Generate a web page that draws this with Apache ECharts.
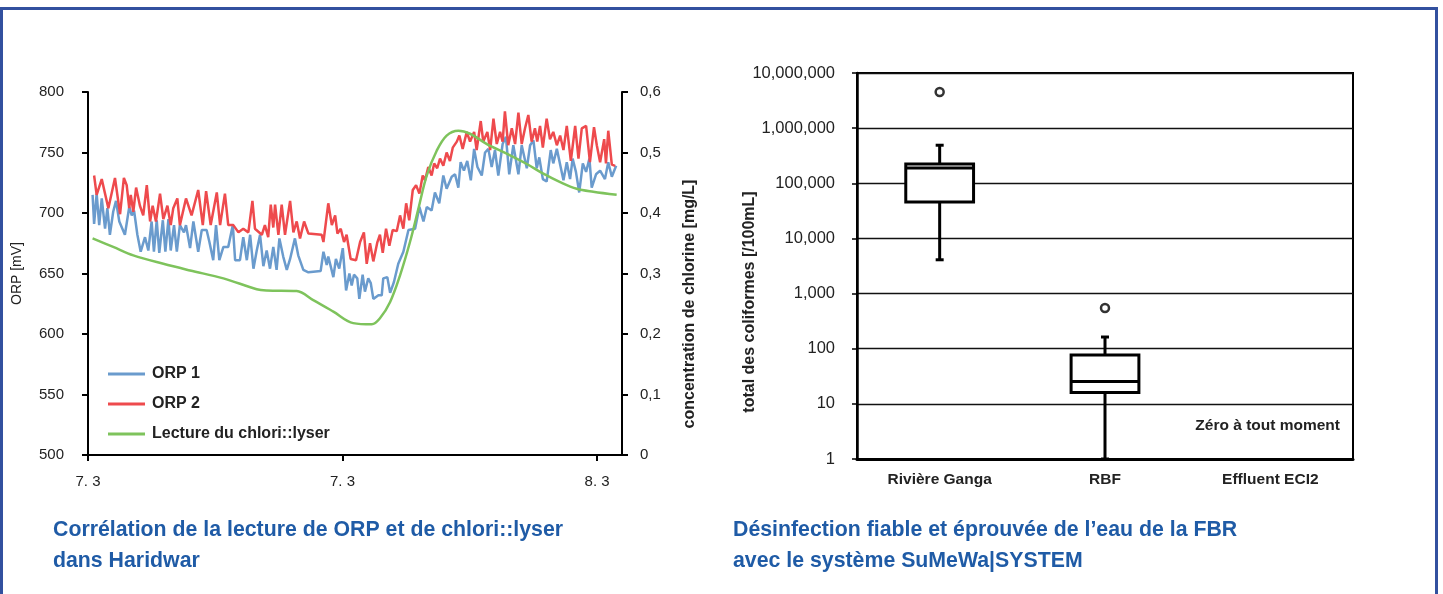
<!DOCTYPE html>
<html>
<head>
<meta charset="utf-8">
<script src="https://cdn.jsdelivr.net/npm/echarts@6/dist/echarts.min.js"></script>
<style>
    html, body { margin: 0; padding: 0; background: #fff; }
    #main { width: 1443px; height: 594px; position: relative; }
    .frame {
        position: absolute; left: 0; top: 7px; width: 1438px; height: 590px;
        border: 3px solid #32509f; box-sizing: border-box; pointer-events: none;
    }
</style>
</head>
<body>
<div id="main"></div>
<div class="frame"></div>
<script>
    // --- left chart: ORP vs chlori::lyser (x in days from first tick) ---
    var xTickLabels = ['7. 3', '7. 3', '8. 3'];

    var orp1 = [[0.018,715],[0.024,691],[0.034,716],[0.044,690],[0.054,712],[0.067,687],[0.076,704],[0.086,682],[0.099,701],[0.110,710],
        [0.123,693],[0.145,682],[0.162,705],[0.172,698],[0.181,702],[0.194,682],[0.207,668],[0.224,680],[0.237,669],[0.250,693],
        [0.259,668],[0.270,694],[0.280,667],[0.294,694],[0.304,668],[0.316,695],[0.325,669],[0.338,690],[0.349,668],[0.361,690],
        [0.377,684],[0.385,690],[0.401,671],[0.414,693],[0.433,668],[0.447,686],[0.466,686],[0.477,676],[0.492,661],[0.503,690],
        [0.516,661],[0.532,672],[0.551,672],[0.569,690],[0.578,661],[0.597,661],[0.610,680],[0.624,661],[0.637,682],[0.650,654],
        [0.663,669],[0.676,682],[0.689,656],[0.702,669],[0.715,654],[0.728,672],[0.741,653],[0.752,679],[0.767,664],[0.781,653],
        [0.794,662],[0.813,679],[0.826,665],[0.846,653],[0.866,651],[0.914,652],[0.925,668],[0.938,657],[0.944,664],[0.964,647],
        [0.974,662],[0.987,654],[1.001,671],[1.014,636],[1.027,650],[1.036,640],[1.045,649],[1.058,646],[1.066,629],[1.079,649],
        [1.088,635],[1.101,646],[1.111,642],[1.121,629],[1.141,632],[1.154,632],[1.160,646],[1.176,647],[1.187,634],[1.202,643],
        [1.219,658],[1.239,668],[1.259,686],[1.285,687],[1.302,705],[1.318,693],[1.331,705],[1.350,702],[1.363,717],[1.380,708],
        [1.396,731],[1.409,720],[1.429,730],[1.442,732],[1.455,721],[1.464,742],[1.477,735],[1.490,743],[1.504,727],[1.517,753],
        [1.530,738],[1.547,731],[1.560,750],[1.573,753],[1.586,738],[1.599,752],[1.612,731],[1.629,757],[1.642,763],[1.655,732],
        [1.671,756],[1.691,732],[1.704,756],[1.724,737],[1.737,756],[1.750,760],[1.763,737],[1.773,746],[1.787,728],[1.802,726],
        [1.818,752],[1.828,741],[1.842,753],[1.857,738],[1.868,727],[1.881,742],[1.894,728],[1.904,745],[1.917,734],[1.930,717],
        [1.944,741],[1.957,734],[1.970,745],[1.979,721],[1.996,732],[2.012,735],[2.031,728],[2.044,742],[2.058,730],[2.075,739]];

    var orp2 = [[0.024,731],[0.034,715],[0.054,728],[0.080,704],[0.106,729],[0.126,699],[0.141,729],[0.152,723],[0.162,704],[0.168,715],
        [0.178,701],[0.189,721],[0.204,706],[0.217,698],[0.231,723],[0.244,693],[0.254,706],[0.267,693],[0.283,716],[0.296,695],
        [0.312,706],[0.325,690],[0.335,704],[0.351,712],[0.361,690],[0.385,712],[0.407,698],[0.433,719],[0.451,690],[0.464,718],
        [0.482,690],[0.506,717],[0.519,690],[0.538,716],[0.551,690],[0.571,690],[0.591,684],[0.610,687],[0.630,684],[0.646,710],
        [0.656,687],[0.683,682],[0.695,690],[0.708,680],[0.718,707],[0.728,688],[0.735,707],[0.748,682],[0.761,707],[0.774,682],
        [0.794,710],[0.807,684],[0.820,693],[0.833,679],[0.849,693],[0.866,683],[0.918,682],[0.925,676],[0.944,708],[0.958,690],
        [0.971,698],[0.980,683],[0.993,687],[1.006,676],[1.016,682],[1.032,662],[1.053,661],[1.069,676],[1.084,684],[1.095,658],
        [1.108,675],[1.121,660],[1.137,676],[1.147,682],[1.158,667],[1.171,687],[1.184,673],[1.197,686],[1.213,685],[1.226,698],
        [1.239,687],[1.250,708],[1.262,694],[1.276,719],[1.289,723],[1.302,716],[1.315,731],[1.324,727],[1.337,738],[1.350,731],
        [1.360,741],[1.372,737],[1.383,745],[1.396,739],[1.409,750],[1.422,743],[1.433,754],[1.449,759],[1.459,764],[1.472,753],
        [1.488,767],[1.501,759],[1.517,767],[1.527,752],[1.543,776],[1.553,759],[1.569,767],[1.580,752],[1.593,778],[1.606,757],
        [1.619,767],[1.629,759],[1.638,784],[1.651,756],[1.665,770],[1.678,757],[1.691,783],[1.704,757],[1.717,770],[1.730,781],
        [1.743,759],[1.756,770],[1.765,759],[1.776,772],[1.787,754],[1.802,778],[1.815,761],[1.828,767],[1.842,756],[1.855,764],
        [1.868,752],[1.881,772],[1.897,743],[1.914,772],[1.927,745],[1.940,770],[1.957,772],[1.972,742],[1.988,771],[1.999,756],
        [2.012,742],[2.028,761],[2.035,741],[2.044,768],[2.058,740],[2.071,739]];

    var chlore = [[0.018,0.358],[0.099,0.344],[0.178,0.330],[0.296,0.316],[0.401,0.305],[0.532,0.292],[0.663,0.274],[0.702,0.272],
        [0.820,0.271],[0.885,0.256],[0.964,0.237],[1.042,0.218],[1.115,0.216],[1.147,0.226],[1.187,0.253],[1.226,0.297],
        [1.265,0.352],[1.298,0.407],[1.331,0.462],[1.370,0.503],[1.409,0.528],[1.455,0.536],[1.501,0.531],[1.567,0.514],
        [1.645,0.498],[1.724,0.481],[1.789,0.465],[1.855,0.451],[1.920,0.440],[1.985,0.435],[2.077,0.430]];

    // --- right chart: coliform boxplots ---
    var sites = ['Rivière Ganga', 'RBF', 'Effluent ECI2'];
    // [site index, low whisker, Q1, median, Q3, high whisker]
    var boxes = [[0, 4100, 46000, 189000, 224000, 490000],
                 [1, 1, 16, 25.5, 77, 163]];
    var outliers = [[0, 4530000], [1, 548]];

    var FONT = '"Liberation Sans", Arial, sans-serif';
    var BLUE_T = '#1f5ba6';

    function renderBox(params, api) {
        var i = api.value(0);
        var lo = api.coord([i, api.value(1)]);
        var q1 = api.coord([i, api.value(2)]);
        var md = api.coord([i, api.value(3)]);
        var q3 = api.coord([i, api.value(4)]);
        var hi = api.coord([i, api.value(5)]);
        var half = api.size([1, 0])[0] * 0.205;
        var cap = 4;
        var st = {stroke: '#000', lineWidth: 3};
        return {
            type: 'group',
            children: [
                {type: 'line', shape: {x1: hi[0], y1: hi[1], x2: q3[0], y2: q3[1]}, style: st},
                {type: 'line', shape: {x1: hi[0] - cap, y1: hi[1], x2: hi[0] + cap, y2: hi[1]}, style: st},
                {type: 'line', shape: {x1: lo[0], y1: lo[1], x2: q1[0], y2: q1[1]}, style: st},
                {type: 'line', shape: {x1: lo[0] - cap, y1: lo[1], x2: lo[0] + cap, y2: lo[1]}, style: st},
                {type: 'rect', shape: {x: q1[0] - half, y: q3[1], width: half * 2, height: q1[1] - q3[1]},
                    style: {stroke: '#000', lineWidth: 3, fill: '#fff'}},
                {type: 'line', shape: {x1: md[0] - half, y1: md[1], x2: md[0] + half, y2: md[1]}, style: st}
            ]
        };
    }

    var chart = echarts.init(document.getElementById('main'));
    var option = {
        animation: false,
        textStyle: {fontFamily: FONT},
        title: [
            {text: 'Corrélation de la lecture de ORP et de chlori::lyser\ndans Haridwar', left: 53, top: 515, padding: 0,
                textStyle: {fontSize: 21.3, fontWeight: 'bold', color: BLUE_T, lineHeight: 31, fontFamily: FONT}},
            {text: 'Désinfection fiable et éprouvée de l’eau de la FBR\navec le système SuMeWa|SYSTEM', left: 733, top: 515, padding: 0,
                textStyle: {fontSize: 21.3, fontWeight: 'bold', color: BLUE_T, lineHeight: 31, fontFamily: FONT}}
        ],
        legend: {
            data: ['ORP 1', 'ORP 2', 'Lecture du chlori::lyser'],
            orient: 'vertical', left: 103, top: 361,
            icon: 'rect', itemWidth: 37, itemHeight: 3, itemGap: 14,
            textStyle: {fontSize: 16, fontWeight: 'bold', color: '#222', fontFamily: FONT,
                lineHeight: 14, padding: [0, 0, 0, 2]}
        },
        grid: [
            {left: 88, top: 92, width: 534, height: 363},
            {left: 857, top: 73, width: 496, height: 386, show: true, borderColor: '#000', borderWidth: 2}
        ],
        xAxis: [
            {
                type: 'value', gridIndex: 0, min: 0, max: 2.098, interval: 1,
                axisLine: {show: true, onZero: false, lineStyle: {color: '#000', width: 2}},
                axisTick: {show: true, length: 6, lineStyle: {color: '#000', width: 2}},
                splitLine: {show: false},
                axisLabel: {
                    margin: 19, fontSize: 15, color: '#222', showMaxLabel: false,
                    formatter: function (v) {
                        var r = Math.round(v);
                        return Math.abs(v - r) < 1e-6 && xTickLabels[r] !== undefined ? xTickLabels[r] : '';
                    }
                }
            },
            {
                type: 'category', gridIndex: 1, data: sites, boundaryGap: true,
                axisLine: {show: true, lineStyle: {color: '#000', width: 3}},
                axisTick: {show: false},
                axisLabel: {margin: 13, fontSize: 15.5, fontWeight: 'bold', color: '#222'}
            }
        ],
        yAxis: [
            {
                type: 'value', gridIndex: 0, min: 500, max: 800, interval: 50,
                name: 'ORP [mV]', nameLocation: 'middle', nameGap: 64, nameRotate: 90,
                nameTextStyle: {fontSize: 14, color: '#222'},
                axisLine: {show: true, lineStyle: {color: '#000', width: 2}},
                axisTick: {show: true, length: 6, lineStyle: {color: '#000', width: 2}},
                splitLine: {show: false},
                axisLabel: {margin: 24, fontSize: 15, color: '#222'}
            },
            {
                type: 'value', gridIndex: 0, position: 'right', min: 0, max: 0.6, interval: 0.1,
                axisLine: {show: true, lineStyle: {color: '#000', width: 2}},
                axisTick: {show: true, length: 6, lineStyle: {color: '#000', width: 2}},
                splitLine: {show: false},
                axisLabel: {
                    margin: 18, fontSize: 15, color: '#222',
                    formatter: function (v) { return v === 0 ? '0' : v.toFixed(1).replace('.', ','); }
                }
            },
            {
                type: 'log', gridIndex: 1, min: 1, max: 10000000, logBase: 10,
                axisLine: {show: true, lineStyle: {color: '#000', width: 2.5}},
                axisTick: {show: true, length: 5, lineStyle: {color: '#000', width: 1.5}},
                splitLine: {show: true, lineStyle: {color: '#111', width: 1.3}},
                axisLabel: {
                    margin: 22, fontSize: 16.5, color: '#222',
                    formatter: function (v) { return Math.round(v).toLocaleString('en-US'); }
                }
            }
        ],
        graphic: [
            {type: 'text', x: 690, y: 304, rotation: Math.PI / 2,
                style: {text: 'concentration de chlorine [mg/L]', font: 'bold 16px ' + FONT, fill: '#222',
                    align: 'center', verticalAlign: 'middle'}},
            {type: 'text', x: 750, y: 302, rotation: Math.PI / 2,
                style: {text: 'total des coliformes [/100mL]', font: 'bold 16px ' + FONT, fill: '#222',
                    align: 'center', verticalAlign: 'middle'}},
            {type: 'text', right: 1443 - 1340, top: 418,
                style: {text: 'Zéro à tout moment', font: 'bold 15.5px ' + FONT, fill: '#222'}}
        ],
        series: [
            {name: 'ORP 1', type: 'line', xAxisIndex: 0, yAxisIndex: 0, data: orp1, symbol: 'none',
                lineStyle: {color: '#6a9bcd', width: 2.5}, itemStyle: {color: '#6a9bcd'}},
            {name: 'ORP 2', type: 'line', xAxisIndex: 0, yAxisIndex: 0, data: orp2, symbol: 'none',
                lineStyle: {color: '#ee4a4d', width: 2.5}, itemStyle: {color: '#ee4a4d'}},
            {name: 'Lecture du chlori::lyser', type: 'line', xAxisIndex: 0, yAxisIndex: 1, data: chlore, symbol: 'none',
                smooth: 0.35, lineStyle: {color: '#7ec35c', width: 2.5}, itemStyle: {color: '#7ec35c'}},
            {type: 'custom', xAxisIndex: 1, yAxisIndex: 2, data: boxes, renderItem: renderBox,
                encode: {x: 0, y: [1, 2, 3, 4, 5]}, z: 3},
            {type: 'scatter', xAxisIndex: 1, yAxisIndex: 2, data: outliers, symbol: 'circle', symbolSize: 8,
                itemStyle: {color: '#fff', borderColor: '#000', borderWidth: 2.5}, z: 4}
        ]
    };
    chart.setOption(option);
</script>
</body>
</html>
